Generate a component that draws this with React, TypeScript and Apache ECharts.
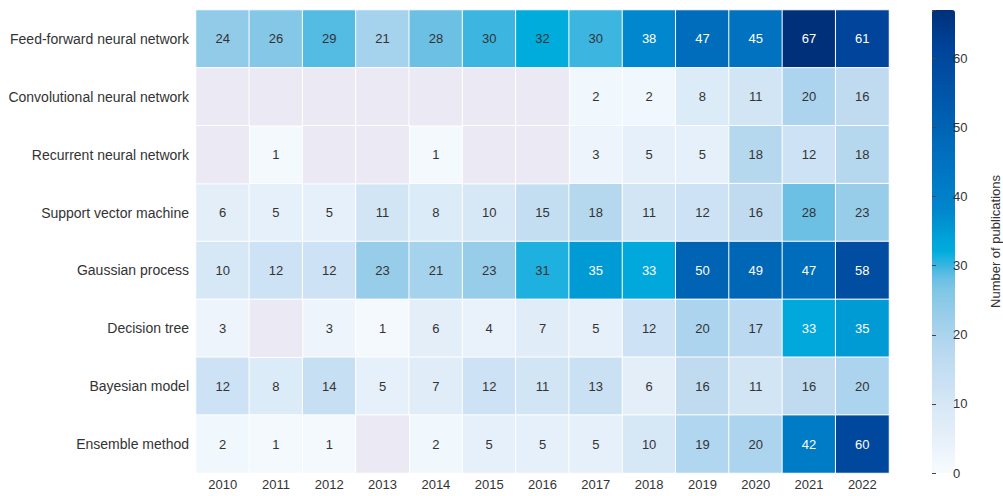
import React, { useEffect, useRef } from "react";
import * as echarts from "echarts";

const years = ["2010", "2011", "2012", "2013", "2014", "2015", "2016", "2017", "2018", "2019", "2020", "2021", "2022"];
const methods = [
  "Feed-forward neural network",
  "Convolutional neural network",
  "Recurrent neural network",
  "Support vector machine",
  "Gaussian process",
  "Decision tree",
  "Bayesian model",
  "Ensemble method",
];
const ffnn = [24, 26, 29, 21, 28, 30, 32, 30, 38, 47, 45, 67, 61];
const cnn = [null, null, null, null, null, null, null, 2, 2, 8, 11, 20, 16];
const rnn = [null, 1, null, null, 1, null, null, 3, 5, 5, 18, 12, 18];
const svm = [6, 5, 5, 11, 8, 10, 15, 18, 11, 12, 16, 28, 23];
const gp = [10, 12, 12, 23, 21, 23, 31, 35, 33, 50, 49, 47, 58];
const dt = [3, null, 3, 1, 6, 4, 7, 5, 12, 20, 17, 33, 35];
const bm = [12, 8, 14, 5, 7, 12, 11, 13, 6, 16, 11, 16, 20];
const em = [2, 1, 1, null, 2, 5, 5, 5, 10, 19, 20, 42, 60];
const rows: (number | null)[][] = [ffnn, cnn, rnn, svm, gp, dt, bm, em];
const colorbarTicks = [0, 10, 20, 30, 40, 50, 60];
const vmin = 0;
const vmax = 67;

// colour-scale anchors (value -> colour), resampled evenly for the visualMap
const scaleAnchors: [number, string][] = [
  [0, "#f7fbff"],
  [5, "#e6f0fa"],
  [10, "#d6e7f6"],
  [12, "#cde2f4"],
  [16, "#c0dbf0"],
  [20, "#acd4ee"],
  [23, "#98cde9"],
  [26, "#84c7e6"],
  [28, "#6cc0e4"],
  [30, "#3cb5e1"],
  [32, "#00acdc"],
  [33, "#00a8dc"],
  [35, "#009bd5"],
  [38, "#0087cd"],
  [40, "#0081c9"],
  [45, "#0072c0"],
  [47, "#006dbc"],
  [50, "#0063b3"],
  [58, "#004da2"],
  [61, "#00459b"],
  [67, "#00307a"],
];

function hexToRgb(h: string) {
  return [parseInt(h.slice(1, 3), 16), parseInt(h.slice(3, 5), 16), parseInt(h.slice(5, 7), 16)];
}
function buildStops(n: number): string[] {
  const out: string[] = [];
  for (let i = 0; i < n; i++) {
    const v = vmin + ((vmax - vmin) * i) / (n - 1);
    let k = 0;
    while (k < scaleAnchors.length - 2 && scaleAnchors[k + 1][0] < v) k++;
    const [v0, c0] = scaleAnchors[k];
    const [v1, c1] = scaleAnchors[k + 1];
    const t = Math.max(0, Math.min(1, (v - v0) / (v1 - v0)));
    const a = hexToRgb(c0);
    const b = hexToRgb(c1);
    const m = a.map((x, j) => Math.round(x + (b[j] - x) * t));
    out.push(`rgb(${m[0]},${m[1]},${m[2]})`);
  }
  return out;
}

const FONT = "Liberation Sans, Arial, Helvetica, sans-serif";

export default function App() {
  const ref = useRef<HTMLDivElement>(null);
  useEffect(() => {
    if (!ref.current) return;
    const chart = echarts.init(ref.current, undefined, { renderer: "svg" });
    const filled: any[] = [];
    const empty: any[] = [];
    rows.forEach((r, yi) => {
      r.forEach((v, xi) => {
        if (v === null) {
          empty.push([xi, yi, 0]);
        } else {
          filled.push({
            value: [xi, yi, v],
            label: { color: v >= 33 ? "#ffffff" : "#333333" },
          });
        }
      });
    });
    chart.setOption({
      animation: false,
      textStyle: { fontFamily: FONT },
      grid: [
        { left: 196, right: 114, top: 10, bottom: 23 },
        { left: 932, width: 23, top: 10, height: 463 },
      ],
      xAxis: [
        {
          type: "category",
          data: years,
          gridIndex: 0,
          axisLine: { show: false },
          axisTick: { show: false },
          splitLine: { show: false },
          axisLabel: { color: "#333", fontSize: 13, margin: 5, fontFamily: FONT },
        },
        { type: "value", gridIndex: 1, show: false, min: 0, max: 1 },
      ],
      yAxis: [
        {
          type: "category",
          data: methods,
          inverse: true,
          gridIndex: 0,
          axisLine: { show: false },
          axisTick: { show: false },
          splitLine: { show: false },
          axisLabel: { color: "#333", fontSize: 14, margin: 7, fontFamily: FONT },
        },
        {
          type: "value",
          gridIndex: 1,
          position: "right",
          z: 20,
          min: vmin,
          max: vmax,
          interval: 10,
          axisLine: { show: false },
          axisTick: { show: true, length: 4, lineStyle: { color: "#444" } },
          splitLine: { show: false },
          axisLabel: {
            color: "#333",
            fontSize: 13,
            margin: 4,
            fontFamily: FONT,
            customValues: colorbarTicks,
          },
          name: "Number of publications",
          nameLocation: "middle",
          nameRotate: 90,
          nameGap: 40,
          nameTextStyle: { color: "#333", fontSize: 13, fontFamily: FONT },
        },
      ],
      visualMap: [
        {
          type: "continuous",
          min: vmin,
          max: vmax,
          seriesIndex: 0,
          dimension: 2,
          calculable: false,
          show: true,
          z: 1,
          orient: "vertical",
          left: 932,
          top: 10,
          padding: 0,
          itemWidth: 23,
          itemHeight: 463,
          showLabel: false,
          inRange: { color: buildStops(68) },
        },
        {
          type: "continuous",
          min: 0,
          max: 1,
          seriesIndex: 1,
          dimension: 2,
          show: false,
          inRange: { color: ["#ebe9f3", "#ebe9f3"] },
        },
      ],
      series: [
        {
          type: "heatmap",
          xAxisIndex: 0,
          yAxisIndex: 0,
          data: filled,
          label: { show: true, fontSize: 13, fontFamily: FONT },
          itemStyle: { borderColor: "#ffffff", borderWidth: 1 },
          emphasis: { disabled: true },
        },
        {
          type: "heatmap",
          xAxisIndex: 0,
          yAxisIndex: 0,
          data: empty,
          label: { show: false },
          itemStyle: { borderColor: "#ffffff", borderWidth: 1 },
          emphasis: { disabled: true },
        },
      ],
    });
    return () => chart.dispose();
  }, []);
  return <div ref={ref} style={{ width: 1003, height: 496, position: "absolute", left: 0, top: 0 }} />;
}
